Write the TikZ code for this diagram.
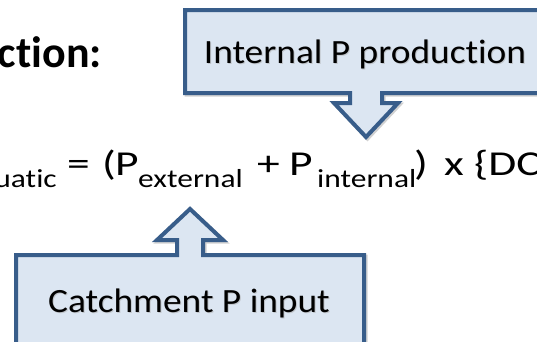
\documentclass[tikz,border=0pt]{standalone}
\usepackage{fontspec}
\setmainfont{Carlito}[FakeStretch=1.1, Ligatures={TeX,NoCommon}]
\newfontfamily\headfont{Carlito}[Ligatures={TeX,NoCommon}]
\newfontfamily\eqfont{Carlito}[FakeStretch=1.3, Ligatures={TeX,NoCommon}]
\newfontfamily\eqsubfont{Carlito}[FakeStretch=1.21, Ligatures={TeX,NoCommon}]
\definecolor{calloutline}{RGB}{56,93,138}
\definecolor{calloutfill}{RGB}{220,230,242}
\tikzset{
  callout/.style={draw=calloutline, fill=calloutfill, line width=4pt, line join=miter},
  calloutshadow/.style={draw=black, opacity=0.18, line width=4pt},
  boxtext/.style={font=\fontsize{34}{40}\selectfont, inner sep=0pt, anchor=base},
  textshadow/.style={text=black!35, opacity=0.5},
  eqmain/.style={font=\eqfont\fontsize{35}{40}\selectfont, inner sep=0pt, anchor=base west},
  eqsub/.style={font=\eqsubfont\fontsize{26}{32}\selectfont, inner sep=0pt, anchor=base west},
}
\begin{document}
\begin{tikzpicture}[x=1pt,y=-1pt]
  \useasboundingbox (0,0) rectangle (537,341);
  \clip (0,0) rectangle (537,341);
  \fill[white] (0,0) rectangle (537,341);

  % heading fragment
  \node[inner sep=0pt, anchor=base east, font=\fontsize{44}{50}\selectfont\headfont\bfseries] (head) at (102,67) {ction:};

  % upper callout with a downward arrow
  \def\topcallout{(185,10) -- (545,10) -- (545,93) -- (382,93) -- (382,103) -- (398,103) -- (366,137) -- (334,103) -- (350,103) -- (350,93) -- (185,93) -- cycle}
  \draw[calloutshadow, shift={(1.5,1.5)}] \topcallout;
  \draw[callout] \topcallout;
  \node[boxtext, textshadow] at (366,64) {Internal P production};
  \node[boxtext] (internal) at (365,63) {Internal P production};

  % lower callout with an upward arrow
  \def\bottomcallout{(16,350) -- (16,255) -- (177,255) -- (177,240) -- (157,240) -- (190,209) -- (223,240) -- (203,240) -- (203,255) -- (364,255) -- (364,350) -- cycle}
  \draw[calloutshadow, shift={(1.5,1.5)}] \bottomcallout;
  \draw[callout] \bottomcallout;
  \node[boxtext, textshadow] at (190,313) {Catchment P input};
  \node[boxtext] (catchment) at (189,312) {Catchment P input};

  % balance equation, set piece by piece
  \node[eqsub, anchor=base east] (subaq) at (57,187) {uatic};
  \node[eqmain] (eq)     at (67,175)  {=};
  \node[eqmain] (lpar)   at (102,175) {(};
  \node[eqmain] (pext)   at (115,175) {P};
  \node[eqsub]  (subext) at (138,187) {external};
  \node[eqmain] (plus)   at (257,175) {+};
  \node[eqmain] (pint)   at (289,175) {P};
  \node[eqsub]  (subint) at (317,187) {internal};
  \node[eqmain] (rpar)   at (414,175) {)};
  \node[eqmain] (times)  at (444,175) {x};
  \node[eqmain] (dc)     at (474,175) {\{DC};
\end{tikzpicture}
\end{document}
